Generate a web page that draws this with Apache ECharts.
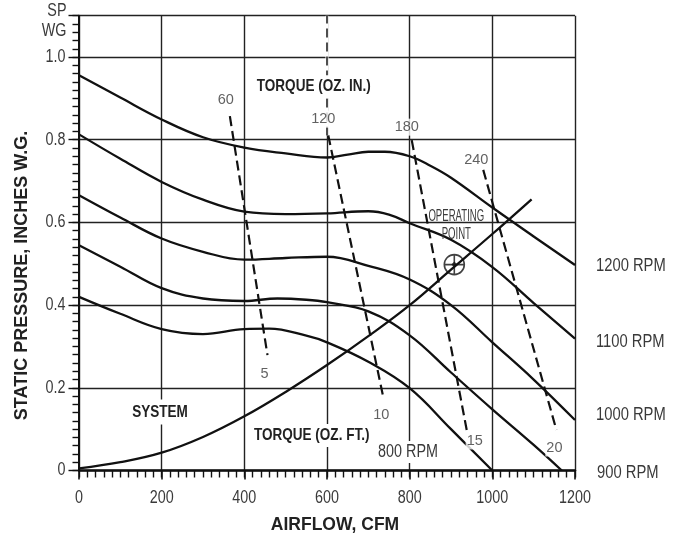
<!DOCTYPE html>
<html><head><meta charset="utf-8">
<script src="https://cdn.jsdelivr.net/npm/echarts@6/dist/echarts.min.js"></script>
<style>html,body{margin:0;padding:0;background:#fff}#c{width:677px;height:538px}</style>
</head><body><div id="c"></div><script>
// ---- data (airflow CFM, static pressure in. W.G.) ----
const rpm1200 = [[0,0.956],[100,0.902],[200,0.849],[300,0.806],[400,0.781],[500,0.767],[600,0.757],[650,0.764],[700,0.771],[740,0.771],[800,0.760],[850,0.737],[900,0.708],[1000,0.636],[1100,0.566],[1200,0.497]];
const rpm1100 = [[0,0.813],[100,0.754],[200,0.698],[300,0.655],[400,0.626],[500,0.620],[600,0.622],[700,0.627],[750,0.619],[800,0.598],[900,0.558],[1000,0.492],[1100,0.405],[1200,0.319]];
const rpm1000 = [[0,0.666],[100,0.612],[200,0.561],[300,0.529],[400,0.510],[500,0.514],[600,0.517],[700,0.495],[800,0.462],[900,0.400],[1000,0.310],[1100,0.220],[1200,0.122]];
const rpm900  = [[0,0.545],[100,0.493],[200,0.441],[300,0.416],[400,0.410],[480,0.416],[550,0.413],[600,0.407],[700,0.385],[800,0.327],[900,0.237],[1000,0.148],[1100,0.062],[1168,0]];
const rpm800  = [[0,0.420],[100,0.379],[200,0.342],[300,0.330],[400,0.342],[460,0.343],[550,0.326],[600,0.310],[700,0.263],[800,0.199],[900,0.100],[1000,0]];
const systemCurve = [[0,0.005],[100,0.020],[200,0.043],[300,0.081],[400,0.131],[500,0.190],[600,0.255],[700,0.325],[800,0.400],[900,0.486],[1000,0.572],[1095,0.656]];
const torque60  = [[365,0.857],[456,0.279]];
const torque120 = [[603,0.811],[736,0.178]];
const torque180 = [[805,0.799],[938,0.098]];
const torque240 = [[978,0.727],[1155,0.098]];
const torque120Guide = [[600,0.81],[600,1.1]];
const torqueInLabels = ['60','120','180','240'];
const torqueFtLabels = ['5','10','15','20'];
const operatingPoint = [908, 0.498];
const rpmLabels = ['1200 RPM','1100 RPM','1000 RPM','900 RPM'];
const lowRpmLabel = '800 RPM';
const xTickValues = [0,200,400,600,800,1000,1200];
const xTickLabels = ['0','200','400','600','800','1000','1200'];
const yTickValues = [0,0.2,0.4,0.6,0.8,1.0];
const yTickLabels = ['0','0.2','0.4','0.6','0.8','1.0'];
const yTickMajor = 0.2, yTickMinor = 0.02, yMax = 1.1;
const xTickMajor = 200, xTickMinor = 20, xMax = 1200;

// ---- styling ----
const SANS = '"Liberation Sans",Arial,sans-serif';
const INK = '#111';
const TXT = '#3a3a3a';
const NARROW_SCALE = 0.82;

const chart = echarts.init(document.getElementById('c'), null, {renderer:'canvas'});

const curveStyle = {color: INK, width: 2.3};
function curve(name, data){
  return {name, type:'line', data, showSymbol:false, smooth:0.4, lineStyle:curveStyle, z:3, silent:true};
}
function dashed(name, data){
  return {name, type:'line', data, showSymbol:false, lineStyle:{color:INK, width:2.2, type:[10,5]}, z:3, silent:true};
}
const torqueLines = [torque60, torque120, torque180, torque240];
const topOffsets = [[-4,-2],[-5,-2],[-5,1],[-7,4]];
const botOffsets = [[-3,5],[-2,4],[8,-3],[-2,4]];
const torqueLabelData = [];
torqueLines.forEach((ln, i) => {
  torqueLabelData.push({value: ln[0], label:{show:true, position:'top', offset:topOffsets[i], formatter: torqueInLabels[i]}});
  torqueLabelData.push({value: ln[1], label:{show:true, position:'bottom', offset:botOffsets[i], formatter: torqueFtLabels[i]}});
});

const option = {
  animation:false,
  backgroundColor:'#fff',
  grid:{left:79, right:102, top:15.7, bottom:67.5},
  xAxis:[{
    type:'value', min:0, max:xMax, interval:xTickMajor,
    axisLine:{show:true, lineStyle:{color:INK, width:2.5}},
    axisTick:{show:true, length:9, lineStyle:{color:INK, width:1.6}},
    axisLabel:{show:false},
    splitLine:{show:true, lineStyle:{color:'#222', width:1.4}}
  },{
    type:'value', min:0, max:xMax, interval:xTickMinor, position:'bottom',
    axisLine:{show:false}, axisLabel:{show:false}, splitLine:{show:false},
    axisTick:{show:true, length:7, lineStyle:{color:INK, width:1.4}}
  }],
  yAxis:[{
    type:'value', min:0, max:yMax, interval:yTickMajor,
    axisLine:{show:true, lineStyle:{color:INK, width:2}},
    axisTick:{show:true, length:10.5, lineStyle:{color:INK, width:1.4}},
    axisLabel:{show:false},
    splitLine:{show:true, lineStyle:{color:'#222', width:1.4}}
  },{
    type:'value', min:0, max:yMax, interval:yTickMinor, position:'left',
    axisLine:{show:false}, axisLabel:{show:false}, splitLine:{show:false},
    axisTick:{show:true, length:6.5, lineStyle:{color:INK, width:1.4}}
  }],
  series:[
    curve('1200 RPM', rpm1200),
    curve('1100 RPM', rpm1100),
    curve('1000 RPM', rpm1000),
    curve('900 RPM', rpm900),
    curve('800 RPM', rpm800),
    curve('SYSTEM', systemCurve),
    dashed('T60', torque60),
    dashed('T120', torque120),
    dashed('T180', torque180),
    dashed('T240', torque240),
    {name:'guideErase', type:'line', data:torque120Guide, showSymbol:false, lineStyle:{color:'#fff', width:3}, z:4, silent:true},
    {name:'guide', type:'line', data:torque120Guide, showSymbol:false, lineStyle:{color:'#222', width:1.6, type:[9,5]}, z:5, silent:true},
    {type:'scatter', data:torqueLabelData, symbolSize:1, itemStyle:{color:'rgba(0,0,0,0)'}, z:6, silent:true,
      label:{color:TXT, fontFamily:SANS, fontSize:14.5, distance:5, backgroundColor:'#fff', padding:[1,1]}},
    {type:'scatter', data:[operatingPoint], symbol:'path://M10,0A10,10,0,1,1,9.99,0ZM10,0L10,20M0,10L20,10', symbolSize:20,
      itemStyle:{color:'rgba(0,0,0,0)', borderColor:INK, borderWidth:1.6}, z:6, silent:true},
    {type:'scatter', data:[operatingPoint], symbol:'diamond', symbolSize:6, itemStyle:{color:INK}, z:7, silent:true}
  ]
};
chart.setOption(option);

// narrow text helper (Arial-Narrow-like by horizontal scaling)
function ntext(x, y, text, size, opt){
  opt = opt || {};
  return {type:'text', x, y, z:100, scaleX: opt.scaleX || NARROW_SCALE, scaleY:1,
    style:{text, font:(opt.bold?'bold ':'') + size + 'px ' + SANS, fill: opt.fill || TXT,
      align: opt.align || 'center', verticalAlign:'middle',
      backgroundColor: opt.bg || null, padding: opt.pad || 0}};
}
const graphics = [];
xTickValues.forEach((v, i) => {
  const px = chart.convertToPixel({xAxisIndex:0}, v);
  const py = chart.convertToPixel({yAxisIndex:0}, 0);
  graphics.push(ntext(px, py + 28, xTickLabels[i], 17.5));
});
yTickValues.forEach((v, i) => {
  const px = chart.convertToPixel({xAxisIndex:0}, 0);
  const py = chart.convertToPixel({yAxisIndex:0}, v);
  graphics.push(ntext(px - 13.5, py, yTickLabels[i], 17.5, {align:'right'}));
});
const op = chart.convertToPixel({gridIndex:0}, operatingPoint);
graphics.push(
  ntext(313.8, 86.7, 'TORQUE (OZ. IN.)', 16.5, {bold:true, fill:'#222', bg:'#fff', pad:[3,3]}),
  ntext(311.7, 435.5, 'TORQUE (OZ. FT.)', 16.5, {bold:true, fill:'#222', bg:'#fff', pad:[3,3]}),
  ntext(160, 412, 'SYSTEM', 16.5, {bold:true, fill:'#222', bg:'#fff', pad:[4,3]}),
  ntext(408, 452, lowRpmLabel, 17.5, {bg:'#fff', pad:[2,2]}),
  ntext(596, 266.5, rpmLabels[0], 18, {align:'left'}),
  ntext(596, 341.7, rpmLabels[1], 18, {align:'left'}),
  ntext(596, 415.5, rpmLabels[2], 18, {align:'left'}),
  ntext(597, 473, rpmLabels[3], 18, {align:'left'}),
  ntext(66.5, 11.5, 'SP', 17.5, {align:'right'}),
  ntext(66.5, 31, 'WG', 17.5, {align:'right'}),
  ntext(op[0] + 2, op[1] - 48, 'OPERATING', 16, {scaleX:0.6}),
  ntext(op[0] + 2, op[1] - 30, 'POINT', 16, {scaleX:0.6}),
  {type:'text', x:335, y:525, z:100, style:{text:'AIRFLOW, CFM', font:'bold 17.5px '+SANS, fill:'#222', align:'center', verticalAlign:'middle'}},
  {type:'text', x:21.7, y:275.5, rotation:Math.PI/2, z:100, style:{text:'STATIC PRESSURE, INCHES W.G.', font:'bold 18px '+SANS, fill:'#222', align:'center', verticalAlign:'middle'}}
);
chart.setOption({graphic:graphics});
</script></body></html>
